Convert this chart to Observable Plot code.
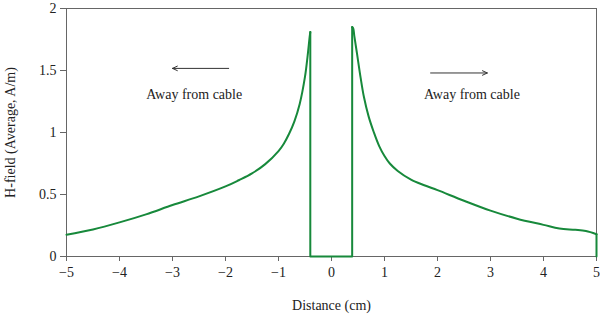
<!DOCTYPE html>
<html>
<head>
<meta charset="utf-8">
<script src="https://cdn.jsdelivr.net/npm/d3@7"></script>
<script src="https://cdn.jsdelivr.net/npm/@observablehq/plot@0.6"></script>
<style>
  html, body { margin: 0; padding: 0; background: #fff; }
  #chart svg { font-family: "Liberation Serif", "DejaVu Serif", serif; }
</style>
</head>
<body>
<div id="chart"></div>
<script>
// Left of cable: Distance (cm) and H-field (A/m)
const leftDistance = [-5.0, -4.5, -4.0, -3.5, -3.0, -2.5, -2.0, -1.75, -1.5, -1.25, -1.0, -0.9, -0.8, -0.7, -0.6, -0.5, -0.45, -0.41, -0.40];
const leftField = [0.175, 0.218, 0.275, 0.34, 0.415, 0.485, 0.565, 0.615, 0.67, 0.745, 0.85, 0.91, 0.99, 1.09, 1.23, 1.45, 1.62, 1.78, 1.81];
// Cable gap outline
const gapDistance = [-0.40, -0.40, 0.39, 0.39];
const gapField = [1.81, 0, 0, 1.85];
// Right of cable
const rightDistance = [0.39, 0.41, 0.43, 0.48, 0.55, 0.61, 0.7, 0.8, 0.9, 1.0, 1.1, 1.25, 1.5, 1.75, 2.0, 2.5, 3.0, 3.5, 4.0, 4.3, 4.6, 4.8, 5.0];
const rightField = [1.85, 1.84, 1.78, 1.64, 1.44, 1.29, 1.13, 1.00, 0.89, 0.81, 0.75, 0.69, 0.62, 0.575, 0.535, 0.45, 0.37, 0.305, 0.255, 0.225, 0.215, 0.205, 0.18];
// Right edge drop
const edgeDistance = [5.0, 5.0];
const edgeField = [0.18, 0];

const xTicks = [-5, -4, -3, -2, -1, 0, 1, 2, 3, 4, 5];
const yTicks = [0, 0.5, 1, 1.5, 2];

// annotations
const arrowX1 = [-1.94, 1.87];
const arrowX2 = [-3.0, 2.94];
const arrowY = [1.517, 1.48];
const noteText = ["Away from cable", "Away from cable"];
const noteX = [-2.59, 2.65];
const noteY = [1.31, 1.31];

const toPts = (xs, ys) => xs.map((d, i) => ({x: d, y: ys[i]}));
const arrows = arrowX1.map((d, i) => ({x1: d, x2: arrowX2[i], y: arrowY[i]}));
const notes = noteText.map((t, i) => ({t, x: noteX[i], y: noteY[i]}));
const green = "#17893b";

const chart = Plot.plot({
  width: 600,
  height: 314,
  marginLeft: 66,
  marginRight: 4,
  marginTop: 8,
  marginBottom: 58,
  style: {fontSize: "14px", fontFamily: "'Liberation Serif', 'DejaVu Serif', serif", color: "#222", background: "#fff"},
  x: {domain: [-5, 5]},
  y: {domain: [0, 2]},
  marks: [
    Plot.frame({stroke: "#666", strokeWidth: 1}),
    Plot.axisX({ticks: xTicks, tickSize: 5, tickPadding: 6, stroke: "#666", fontSize: 14,
      label: "Distance (cm)", labelAnchor: "center", labelArrow: "none", labelOffset: 53}),
    Plot.axisY({ticks: yTicks, tickSize: 6, tickPadding: 4, stroke: "#666", fontSize: 14,
      tickFormat: d => String(d),
      label: "H-field (Average, A/m)", labelAnchor: "center", labelArrow: "none", labelOffset: 61}),
    Plot.line(toPts(leftDistance, leftField), {x: "x", y: "y", stroke: green, strokeWidth: 2, curve: "catmull-rom"}),
    Plot.line(toPts(gapDistance, gapField), {x: "x", y: "y", stroke: green, strokeWidth: 2, curve: "linear"}),
    Plot.line(toPts(rightDistance, rightField), {x: "x", y: "y", stroke: green, strokeWidth: 2, curve: "catmull-rom"}),
    Plot.line(toPts(edgeDistance, edgeField), {x: "x", y: "y", stroke: green, strokeWidth: 2, curve: "linear"}),
    Plot.arrow(arrows, {x1: "x1", x2: "x2", y1: "y", y2: "y", stroke: "#333", strokeWidth: 1, headLength: 8, headAngle: 50}),
    Plot.text(notes, {x: "x", y: "y", text: "t", fontSize: 14, fill: "#222"})
  ]
});
document.getElementById("chart").appendChild(chart);
</script>
</body>
</html>
